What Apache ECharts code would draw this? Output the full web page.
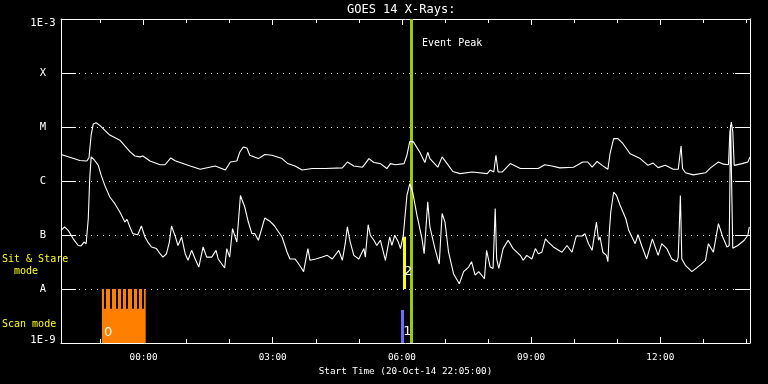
<!DOCTYPE html>
<html>
<head>
<meta charset="utf-8">
<script src="https://cdn.jsdelivr.net/npm/echarts@6/dist/echarts.min.js"></script>
<style>html,body{margin:0;padding:0;background:#000}#c{width:768px;height:384px}</style>
</head>
<body>
<div id="c"></div>
<script>
// ---- data (times UT, start 20-Oct-14 22:05) ----
const startTime = "22:05";
const endTime = "14:05";
const tickLabels = ["00:00", "03:00", "06:00", "09:00", "12:00"];
const minorTicks = ["23:00", "01:00", "02:00", "04:00", "05:00", "07:00", "08:00", "10:00", "11:00", "13:00", "14:00"];
const classLevels = { "-9": "1E-9", "-8": "A", "-7": "B", "-6": "C", "-5": "M", "-4": "X", "-3": "1E-3" };

const longTimes = ["22:05","22:25","22:31","22:41","22:44","22:47","22:50","22:54","22:59","23:13","23:27","23:41","23:48","23:55","23:59","00:09","00:23","00:30","00:38","00:44","00:51","01:05","01:19","01:40","01:54","02:01","02:10","02:14","02:19","02:24","02:28","02:40","02:49","02:59","03:13","03:21","03:31","03:41","03:55","04:13","04:37","04:44","04:53","05:05","05:09","05:14","05:21","05:30","05:39","05:44","05:51","06:03","06:07","06:11","06:16","06:25","06:32","06:36","06:39","06:50","06:56","07:03","07:11","07:21","07:38","07:59","08:03","08:08","08:11","08:14","08:20","08:31","08:45","08:54","09:10","09:19","09:29","09:40","09:59","10:12","10:19","10:25","10:32","10:39","10:47","10:50","10:55","11:01","11:08","11:18","11:32","11:43","11:50","11:57","12:07","12:18","12:25","12:29","12:31","12:35","12:46","13:03","13:10","13:21","13:28","13:35","13:37","13:39","13:41","13:43","13:54","14:02","14:05"];
const longFlux = [3.1e-6,2.55e-6,2.4e-6,2.35e-6,2.7e-6,7.1e-6,1.14e-5,1.2e-5,1.07e-5,7.1e-6,5.7e-6,3.5e-6,2.9e-6,2.8e-6,2.9e-6,2.35e-6,2.0e-6,2.0e-6,2.67e-6,2.37e-6,2.2e-6,1.9e-6,1.65e-6,1.9e-6,1.6e-6,2.25e-6,2.35e-6,3.4e-6,4.26e-6,4.1e-6,3.0e-6,2.6e-6,3.1e-6,3.0e-6,2.6e-6,2.1e-6,1.9e-6,1.6e-6,1.7e-6,1.7e-6,1.75e-6,2.25e-6,1.9e-6,1.8e-6,2.1e-6,2.6e-6,2.2e-6,2.1e-6,1.7e-6,2.1e-6,2.0e-6,2.1e-6,3.0e-6,5.4e-6,5.3e-6,3.4e-6,2.2e-6,3.4e-6,2.6e-6,1.8e-6,2.8e-6,2.1e-6,1.5e-6,1.37e-6,1.47e-6,1.37e-6,1.6e-6,1.47e-6,3.0e-6,1.47e-6,1.47e-6,2.1e-6,1.7e-6,1.7e-6,1.7e-6,2.0e-6,1.9e-6,1.75e-6,1.8e-6,2.25e-6,2.25e-6,1.8e-6,2.3e-6,1.95e-6,1.65e-6,3.2e-6,6.1e-6,6.1e-6,4.9e-6,3.2e-6,2.6e-6,1.95e-6,2.15e-6,1.77e-6,1.95e-6,1.65e-6,1.65e-6,4.45e-6,1.7e-6,1.42e-6,1.3e-6,1.42e-6,1.75e-6,2.25e-6,2.05e-6,2.0e-6,8.1e-6,1.24e-5,8.1e-6,1.95e-6,2.1e-6,2.25e-6,2.8e-6];

const shortTimes = ["22:05","22:10","22:15","22:22","22:29","22:33","22:37","22:40","22:43","22:45","22:47","22:52","22:57","23:01","23:06","23:13","23:20","23:27","23:34","23:37","23:41","23:45","23:52","23:57","00:02","00:06","00:11","00:18","00:23","00:27","00:32","00:36","00:39","00:44","00:48","00:53","00:58","01:02","01:07","01:12","01:17","01:23","01:28","01:35","01:41","01:44","01:53","01:56","02:00","02:04","02:10","02:15","02:21","02:26","02:31","02:35","02:40","02:49","02:56","03:02","03:13","03:20","03:24","03:31","03:34","03:39","03:43","03:49","03:52","04:00","04:09","04:16","04:23","04:32","04:37","04:41","04:44","04:48","04:53","05:00","05:07","05:09","05:13","05:16","05:21","05:25","05:30","05:37","05:43","05:46","05:50","05:55","05:58","06:02","06:04","06:07","06:11","06:15","06:21","06:28","06:31","06:36","06:39","06:46","06:52","06:56","07:00","07:05","07:12","07:20","07:26","07:33","07:37","07:42","07:47","07:55","07:58","08:03","08:07","08:10","08:12","08:15","08:21","08:28","08:35","08:45","08:49","08:54","09:01","09:06","09:10","09:15","09:20","09:24","09:31","09:43","09:50","09:57","10:03","10:11","10:15","10:20","10:25","10:31","10:34","10:36","10:40","10:45","10:47","10:49","10:51","10:55","10:59","11:04","11:12","11:16","11:25","11:29","11:34","11:41","11:49","11:57","12:02","12:09","12:16","12:23","12:25","12:28","12:30","12:35","12:44","12:56","13:03","13:07","13:14","13:21","13:27","13:33","13:36","13:38","13:41","13:48","13:57","14:02","14:04"];
const shortFlux = [1.22e-7,1.41e-7,1.22e-7,8.5e-8,6.4e-8,6.3e-8,7.4e-8,6.9e-8,2.0e-7,1.1e-6,2.8e-6,2.4e-6,1.95e-6,1.27e-6,8.3e-7,5.05e-7,3.8e-7,2.67e-7,1.74e-7,1.95e-7,1.41e-7,1.06e-7,1.01e-7,1.47e-7,9.2e-8,7.4e-8,6.0e-8,5.6e-8,4.5e-8,3.9e-8,4.5e-8,7.4e-8,1.47e-7,9.6e-8,6.4e-8,9.2e-8,4.5e-8,3.4e-8,5.2e-8,3.6e-8,2.55e-8,6.0e-8,3.9e-8,3.9e-8,5.2e-8,3.6e-8,2.45e-8,5.6e-8,3.9e-8,1.31e-7,7.4e-8,5.4e-7,3.3e-7,1.74e-7,1.06e-7,1.06e-7,8.0e-8,2.07e-7,1.8e-7,1.5e-7,9.2e-8,4.8e-8,3.6e-8,3.6e-8,3.2e-8,2.55e-8,2.1e-8,5.6e-8,3.4e-8,3.6e-8,3.9e-8,4.2e-8,3.6e-8,5.2e-8,3.4e-8,6.9e-8,1.41e-7,7.4e-8,4.2e-8,3.6e-8,5.6e-8,3.9e-8,1.55e-7,9.9e-8,8.0e-8,6.4e-8,8.0e-8,3.4e-8,9.2e-8,6.4e-8,9.9e-8,7.4e-8,5.6e-8,9.9e-8,2.0e-7,5.4e-7,8.9e-7,6.2e-7,2.3e-7,8.5e-8,4.5e-8,4.1e-7,1.41e-7,5.6e-8,2.9e-8,2.5e-7,1.74e-7,4.8e-8,1.9e-8,1.25e-8,2.1e-8,2.55e-8,3.2e-8,1.8e-8,2.1e-8,1.55e-8,5.2e-8,2.55e-8,2.4e-8,3.1e-7,3.6e-8,2.4e-8,5.6e-8,8.0e-8,5.6e-8,4.2e-8,3.4e-8,4.2e-8,3.6e-8,5.6e-8,4.5e-8,4.8e-8,8.5e-8,7.4e-8,6.0e-8,4.8e-8,6.4e-8,4.8e-8,9.6e-8,9.6e-8,1.06e-7,6.9e-8,5.2e-8,1.74e-7,8.0e-8,9.2e-8,4.8e-8,4.2e-8,3.2e-8,1.14e-7,2.67e-7,6.2e-7,5.4e-7,3.55e-7,2.0e-7,1.22e-7,6.9e-8,1.01e-7,6.4e-8,3.6e-8,8.5e-8,4.2e-8,6.9e-8,5.6e-8,3.6e-8,3.2e-8,3.9e-8,5.4e-7,3.6e-8,2.75e-8,2.1e-8,2.8e-8,3.4e-8,6.9e-8,4.8e-8,1.62e-7,9.2e-8,6.0e-8,6.4e-8,1.09e-5,5.7e-8,6.4e-8,8.0e-8,9.9e-8,1.41e-7];

const eventPeakTime = "06:13";
const scanModeStart = "23:02";
const scanModeEnd = "00:03";
const scanModeGaps = ["23:06","23:15","23:23","23:30","23:37","23:45","23:52","23:59"];
const scanGapFlux = [1e-8, 4.3e-9];
const scanBlockFlux = [1e-9, 1e-8];
const scanMarkTime = "06:01";
const scanMarkFlux = [1e-9, 4.1e-9];
const sitStareTime = "06:03";
const sitStareFlux = [1e-8, 9.3e-8];
const modeLabels = [
  { text: "0", time: "23:05", flux: 1.55e-9 },
  { text: "1", time: "06:02", flux: 1.6e-9 },
  { text: "2", time: "06:03", flux: 2.07e-8 },
  { text: "Event Peak", time: "06:28", flux: 3.6e-4 }
];

// ---- helpers ----
function toMin(s) {
  const p = s.split(":").map(Number);
  let v = p[0] * 60 + p[1];
  if (p[0] >= 20) v -= 1440;
  return v;
}
function fmt(v) {
  let m = ((v % 1440) + 1440) % 1440;
  const h = Math.floor(m / 60), mm = m % 60;
  return String(h).padStart(2, "0") + ":" + String(mm).padStart(2, "0");
}
const xMin = toMin(startTime), xMax = toMin(endTime);
const majorVals = tickLabels.map(toMin);
const minorVals = minorTicks.map(toMin);
const FONT = "DejaVu Sans Mono";
const W = "#ffffff";

function xAxisDef(pos, ticks, len, withLabels, showLine) {
  return {
    type: "value", position: pos, min: xMin, max: xMax, gridIndex: 0,
    axisLine: { show: showLine, onZero: false, lineStyle: { color: W, width: 1 } },
    axisTick: { show: true, inside: true, length: len, customValues: ticks, lineStyle: { color: W, width: 1 } },
    axisLabel: withLabels ? {
      show: true, customValues: majorVals, formatter: v => fmt(v),
      color: W, fontSize: 9.3, fontFamily: FONT, margin: 10
    } : { show: false },
    splitLine: { show: false },
    name: withLabels ? "Start Time (20-Oct-14 22:05:00)" : "",
    nameLocation: "middle", nameGap: 21,
    nameTextStyle: { color: W, fontSize: 9.3, fontFamily: FONT }
  };
}

function yLabel(v) {
  const e = Math.round(Math.log10(v));
  const s = classLevels[String(e)] || "";
  if (e === -3) return "{t|" + s + "}";
  if (e === -9) return "{b|" + s + "}";
  return s;
}

const chart = echarts.init(document.getElementById("c"), null, { renderer: "canvas" });
const option = {
  backgroundColor: "#000000",
  animation: false,
  title: {
    text: "GOES 14 X-Rays:", left: 347, top: 4, padding: 0,
    textStyle: { color: W, fontSize: 12, fontWeight: "normal", fontFamily: FONT }
  },
  grid: { left: 61, right: 18, top: 19, bottom: 41, containLabel: false },
  xAxis: [
    xAxisDef("bottom", majorVals, 6, true, true),
    xAxisDef("bottom", minorVals, 4, false, false),
    xAxisDef("top", majorVals, 6, false, true),
    xAxisDef("top", minorVals, 4, false, false)
  ],
  yAxis: [
    {
      type: "log", logBase: 10, min: 1e-9, max: 1e-3, position: "left",
      axisLine: { show: true, onZero: false, lineStyle: { color: W, width: 1 } },
      axisTick: { show: true, inside: true, length: 15, lineStyle: { color: W, width: 1 } },
      axisLabel: {
        show: true, color: W, fontSize: 10.5, fontFamily: FONT, align: "center", margin: 18,
        formatter: yLabel,
        rich: {
          t: { color: W, fontSize: 10.5, fontFamily: FONT, padding: [9, 0, 0, 0] },
          b: { color: W, fontSize: 10.5, fontFamily: FONT, padding: [0, 0, 6, 0] }
        }
      },
      splitLine: { show: true, lineStyle: { color: W, width: 1, type: [1, 5] } }
    },
    {
      type: "log", logBase: 10, min: 1e-9, max: 1e-3, position: "right",
      axisLine: { show: true, onZero: false, lineStyle: { color: W, width: 1 } },
      axisTick: { show: true, inside: true, length: 15, lineStyle: { color: W, width: 1 } },
      axisLabel: { show: false },
      splitLine: { show: false }
    }
  ],
  graphic: [
    { type: "text", left: 2, top: 253, style: { text: "Sit & Stare\n  mode", fill: "#ffff00", font: "10px " + FONT, lineHeight: 12 } },
    { type: "text", left: 2, top: 318, style: { text: "Scan mode", fill: "#ffff00", font: "10px " + FONT, lineHeight: 12 } }
  ],
  series: [
    {
      name: "scan", type: "line", data: [], xAxisIndex: 0, yAxisIndex: 0, z: 1,
      markArea: {
        silent: true,
        itemStyle: { color: "#ff8000", opacity: 1 },
        data: [[{ coord: [toMin(scanModeStart), scanBlockFlux[0]] }, { coord: [toMin(scanModeEnd), scanBlockFlux[1]] }]]
      }
    },
    {
      name: "marks", type: "line", data: [], xAxisIndex: 0, yAxisIndex: 0, z: 4,
      markLine: {
        silent: true, symbol: ["none", "none"], label: { show: false },
        data: scanModeGaps.map(t => [
          { coord: [toMin(t), scanGapFlux[0]], lineStyle: { color: "#000000", width: 2, type: "solid" } },
          { coord: [toMin(t), scanGapFlux[1]] }
        ]).concat([
          [{ coord: [toMin(scanMarkTime), scanMarkFlux[0]], lineStyle: { color: "#6b6bff", width: 3, type: "solid" } },
           { coord: [toMin(scanMarkTime), scanMarkFlux[1]] }],
          [{ coord: [toMin(sitStareTime), sitStareFlux[0]], lineStyle: { color: "#ffff00", width: 3, type: "solid" } },
           { coord: [toMin(sitStareTime), sitStareFlux[1]] }]
        ])
      }
    },
    {
      name: "GOES long", type: "line", xAxisIndex: 0, yAxisIndex: 0, z: 5,
      data: longTimes.map((t, i) => [toMin(t), longFlux[i]]),
      showSymbol: false, symbol: "none",
      lineStyle: { color: W, width: 1.1 }
    },
    {
      name: "GOES short", type: "line", xAxisIndex: 0, yAxisIndex: 0, z: 5,
      data: shortTimes.map((t, i) => [toMin(t), shortFlux[i]]),
      showSymbol: false, symbol: "none",
      lineStyle: { color: W, width: 1.1 }
    },
    {
      name: "peak", type: "line", data: [], xAxisIndex: 0, yAxisIndex: 0, z: 6,
      markLine: {
        silent: true, symbol: ["none", "none"], label: { show: false },
        lineStyle: { color: "#9acd00", width: 3, type: "solid" },
        data: [{ xAxis: toMin(eventPeakTime) }]
      },
      markPoint: {
        silent: true, symbol: "circle", symbolSize: 0,
        data: modeLabels.map(l => ({
          coord: [toMin(l.time), l.flux],
          label: {
            show: true, formatter: l.text, position: "right", distance: 0,
            color: W, fontFamily: l.text.length > 1 ? FONT : "DejaVu Sans",
            fontSize: l.text.length > 1 ? 10 : 13
          }
        }))
      }
    }
  ]
};
chart.setOption(option);
</script>
</body>
</html>
